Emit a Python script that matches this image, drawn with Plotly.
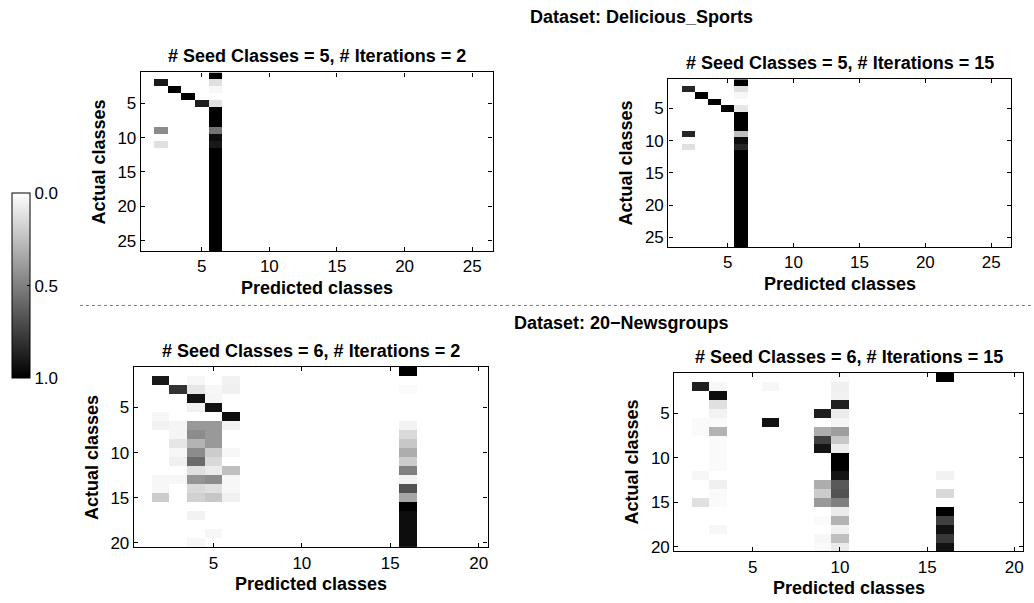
import numpy as np
import plotly.graph_objects as go

W, H = 1034, 603

# ---------------- data (sparse entries: actual row, predicted col, fraction) -------------
# Delicious_Sports, 26 classes, seed 5, iterations 2
ds2_rows = [1, 2, 2, 3, 3, 4, 5, 5, 6, 7, 8, 9, 9, 10, 11, 11,
            12, 13, 14, 15, 16, 17, 18, 19, 20, 21, 22, 23, 24, 25, 26]
ds2_cols = [6, 2, 6, 3, 6, 4, 5, 6, 6, 6, 6, 2, 6, 6, 2, 6,
            6, 6, 6, 6, 6, 6, 6, 6, 6, 6, 6, 6, 6, 6, 6]
ds2_vals = [1.0, 0.9, 0.12, 1.0, 0.03, 1.0, 0.88, 0.12, 1.0, 1.0, 1.0, 0.45, 0.55, 0.95, 0.12, 0.9,
            1.0, 1.0, 1.0, 1.0, 1.0, 1.0, 1.0, 1.0, 1.0, 1.0, 1.0, 1.0, 1.0, 1.0, 1.0]

# Delicious_Sports, 26 classes, seed 5, iterations 15
ds15_rows = [1, 2, 2, 3, 3, 4, 5, 5, 6, 7, 8, 9, 9, 10, 11, 11,
             12, 13, 14, 15, 16, 17, 18, 19, 20, 21, 22, 23, 24, 25, 26]
ds15_cols = [6, 2, 6, 3, 6, 4, 5, 6, 6, 6, 6, 2, 6, 6, 2, 6,
             6, 6, 6, 6, 6, 6, 6, 6, 6, 6, 6, 6, 6, 6, 6]
ds15_vals = [1.0, 0.85, 0.12, 1.0, 0.03, 1.0, 1.0, 0.1, 1.0, 1.0, 1.0, 0.85, 0.25, 0.95, 0.12, 0.85,
             1.0, 1.0, 1.0, 1.0, 1.0, 1.0, 1.0, 1.0, 1.0, 1.0, 1.0, 1.0, 1.0, 1.0, 1.0]

# 20-Newsgroups, 20 classes, seed 6, iterations 2
ng2_rows = [1,
            2, 2, 2,
            3, 3, 3, 3, 3,
            4, 4,
            5, 5,
            6, 6,
            7, 7, 7, 7, 7, 7,
            8, 8, 8, 8,
            9, 9, 9, 9,
            10, 10, 10, 10, 10,
            11, 11, 11, 11,
            12, 12, 12, 12,
            13, 13, 13, 13, 13, 13,
            14, 14, 14, 14, 14,
            15, 15, 15, 15, 15,
            16, 17, 17, 18, 19, 19, 20, 20]
ng2_cols = [16,
            2, 4, 6,
            3, 4, 5, 6, 16,
            4, 5,
            4, 5,
            2, 6,
            2, 3, 4, 5, 6, 16,
            3, 4, 5, 16,
            3, 4, 5, 16,
            3, 4, 5, 6, 16,
            3, 4, 5, 16,
            4, 5, 6, 16,
            2, 3, 4, 5, 6, 16,
            2, 4, 5, 6, 16,
            2, 4, 5, 6, 16,
            16, 4, 16, 16, 5, 16, 4, 16]
ng2_vals = [1.0,
            0.9, 0.03, 0.05,
            0.8, 0.1, 0.03, 0.06, 0.02,
            0.93, 0.04,
            0.06, 0.93,
            0.03, 0.95,
            0.05, 0.04, 0.4, 0.4, 0.05, 0.05,
            0.04, 0.45, 0.4, 0.15,
            0.1, 0.3, 0.4, 0.22,
            0.03, 0.45, 0.2, 0.03, 0.32,
            0.06, 0.58, 0.15, 0.2,
            0.12, 0.08, 0.25, 0.5,
            0.03, 0.03, 0.42, 0.45, 0.03, 0.05,
            0.03, 0.15, 0.12, 0.03, 0.68,
            0.2, 0.18, 0.22, 0.06, 0.35,
            1.0, 0.05, 0.95, 0.95, 0.03, 0.95, 0.03, 0.95]

# 20-Newsgroups, 20 classes, seed 6, iterations 15
ng15_rows = [1, 1,
             2, 2, 2, 2,
             3, 3,
             4, 4,
             5, 5, 5,
             6, 6, 6, 6,
             7, 7, 7, 7,
             8, 8, 8,
             9, 9, 9,
             10, 10,
             11, 11,
             12, 12, 12,
             13, 13, 13,
             14, 14, 14, 14,
             15, 15, 15, 15,
             16, 16,
             17, 17, 17,
             18, 18, 18,
             19, 19, 19,
             20, 20, 20]
ng15_cols = [10, 16,
             2, 3, 6, 10,
             3, 10,
             3, 10,
             3, 9, 10,
             2, 3, 6, 10,
             2, 3, 9, 10,
             3, 9, 10,
             3, 9, 10,
             3, 10,
             3, 10,
             2, 10, 16,
             3, 9, 10,
             3, 9, 10, 16,
             2, 3, 9, 10,
             10, 16,
             9, 10, 16,
             3, 10, 16,
             9, 10, 16,
             9, 10, 16]
ng15_vals = [0.02, 1.0,
             0.88, 0.03, 0.03, 0.06,
             0.95, 0.05,
             0.12, 0.88,
             0.05, 0.88, 0.08,
             0.02, 0.02, 0.93, 0.04,
             0.02, 0.3, 0.32, 0.38,
             0.02, 0.75, 0.22,
             0.02, 0.92, 0.07,
             0.02, 1.0,
             0.02, 1.0,
             0.03, 0.92, 0.05,
             0.06, 0.32, 0.65,
             0.02, 0.2, 0.68, 0.15,
             0.12, 0.02, 0.4, 0.5,
             0.08, 1.0,
             0.02, 0.3, 0.75,
             0.03, 0.06, 0.93,
             0.03, 0.25, 0.78,
             0.02, 0.08, 0.93]

n_ds, n_ng = 26, 20
tick_ds = [5, 10, 15, 20, 25]
tick_ng = [5, 10, 15, 20]
cbar_ticks = [0.0, 0.5, 1.0]


def build(n, rows, cols, vals):
    z = np.zeros((n, n))
    for r, c, v in zip(rows, cols, vals):
        z[r - 1, c - 1] = v
    return z


def px(x):
    return x / W


def py(y):
    return 1 - y / H


FONT = "Liberation Sans, Arial, sans-serif"
FS = 18     # titles
TFS = 17    # tick labels
gray = [[0, "white"], [1, "black"]]

# panel boxes in pixels: left, right, top, bottom
panels = [
    dict(z=build(n_ds, ds2_rows, ds2_cols, ds2_vals), n=n_ds, ticks=tick_ds,
         box=(141, 493, 73, 253), title="# Seed Classes = 5, # Iterations = 2"),
    dict(z=build(n_ds, ds15_rows, ds15_cols, ds15_vals), n=n_ds, ticks=tick_ds,
         box=(669, 1012, 80, 249), title="# Seed Classes = 5, # Iterations = 15"),
    dict(z=build(n_ng, ng2_rows, ng2_cols, ng2_vals), n=n_ng, ticks=tick_ng,
         box=(134, 488, 370, 552), title="# Seed Classes = 6, # Iterations = 2"),
    dict(z=build(n_ng, ng15_rows, ng15_cols, ng15_vals), n=n_ng, ticks=tick_ng,
         box=(675, 1024, 376, 556), title="# Seed Classes = 6, # Iterations = 15"),
]

fig = go.Figure()
annotations = []
layout = {}
for i, p in enumerate(panels, start=1):
    n = p["n"]
    idx = list(range(1, n + 1))
    xa = "x" if i == 1 else f"x{i}"
    ya = "y" if i == 1 else f"y{i}"
    fig.add_trace(go.Heatmap(z=p["z"], x=idx, y=idx, colorscale=gray, zmin=0, zmax=1,
                             showscale=False, xaxis=xa, yaxis=ya, hoverongaps=False))
    l, r, t, b = p["box"]
    axis_common = dict(showline=True, linecolor="black", linewidth=1.3, mirror="ticks",
                       ticks="inside", ticklen=4, tickcolor="black", tickwidth=1,
                       showgrid=False, zeroline=False,
                       tickfont=dict(family=FONT, size=TFS, color="black"))
    layout["xaxis" if i == 1 else f"xaxis{i}"] = dict(
        domain=[px(l), px(r)], range=[0.5, n + 0.5], tickvals=p["ticks"],
        anchor=ya, **axis_common)
    layout["yaxis" if i == 1 else f"yaxis{i}"] = dict(
        domain=[py(b), py(t)], range=[n + 0.5, 0.5], tickvals=p["ticks"],
        anchor=xa, **axis_common)
    # panel title
    annotations.append(dict(text=f"<b>{p['title']}</b>", x=px((l + r) / 2), y=py(t - 4),
                            xref="paper", yref="paper", xanchor="center", yanchor="bottom",
                            showarrow=False, font=dict(family=FONT, size=FS, color="black")))
    # axis titles
    annotations.append(dict(text="<b>Predicted classes</b>", x=px((l + r) / 2), y=py(b + 25),
                            xref="paper", yref="paper", xanchor="center", yanchor="top",
                            showarrow=False, font=dict(family=FONT, size=FS, color="black")))
    annotations.append(dict(text="<b>Actual classes</b>", x=px(l - 42), y=py((t + b) / 2),
                            xref="paper", yref="paper", xanchor="center", yanchor="middle",
                            textangle=-90, showarrow=False,
                            font=dict(family=FONT, size=FS, color="black")))

annotations.append(dict(text="<b>Dataset: Delicious_Sports</b>", x=px(642), y=py(17),
                        xref="paper", yref="paper", xanchor="center", yanchor="middle",
                        showarrow=False, font=dict(family=FONT, size=FS, color="black")))
annotations.append(dict(text="<b>Dataset: 20\u2212Newsgroups</b>", x=px(622), y=py(326),
                        xref="paper", yref="paper", xanchor="center", yanchor="middle",
                        showarrow=False, font=dict(family=FONT, size=FS, color="black")))

# colorbar (white = 0.0 at top, black = 1.0 at bottom)
fig.add_trace(go.Scatter(
    x=[-5], y=[-5], mode="markers", xaxis="x", yaxis="y", hoverinfo="skip", showlegend=False,
    marker=dict(color=[-0.5], cmin=-max(cbar_ticks), cmax=-min(cbar_ticks),
                colorscale=[[0, "black"], [1, "white"]], showscale=True, size=1,
                colorbar=dict(x=px(12), xanchor="left", y=py(195), yanchor="top",
                              thickness=18, thicknessmode="pixels",
                              len=185, lenmode="pixels", xpad=0, ypad=0,
                              outlinecolor="black", outlinewidth=1,
                              tickvals=[-v for v in cbar_ticks],
                              ticktext=[f"{v:.1f}" for v in cbar_ticks],
                              ticks="inside", ticklen=3, tickcolor="black",
                              tickfont=dict(family=FONT, size=TFS, color="black"))),
))

fig.update_layout(
    width=W, height=H, margin=dict(l=0, r=0, t=0, b=0),
    paper_bgcolor="white", plot_bgcolor="white",
    annotations=annotations,
    shapes=[dict(type="line", xref="paper", yref="paper", x0=px(80), x1=1, y0=py(308), y1=py(308),
                 line=dict(color="#777777", width=1, dash="dot"))],
    showlegend=False,
    **layout,
)

fig.write_html("out.html")
